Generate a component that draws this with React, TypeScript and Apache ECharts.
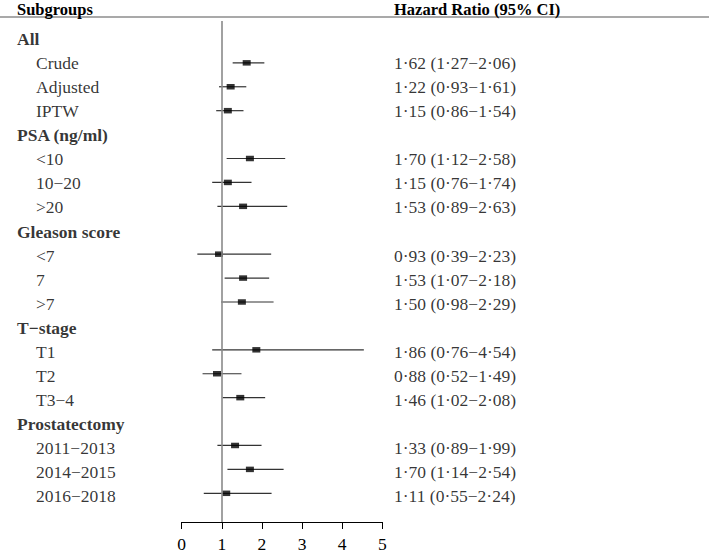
import React, { useEffect, useRef } from "react";
import * as echarts from "echarts";

const rowLabels = [
  "All", "Crude", "Adjusted", "IPTW",
  "PSA (ng/ml)", "<10", "10−20", ">20",
  "Gleason score", "<7", "7", ">7",
  "T−stage", "T1", "T2", "T3−4",
  "Prostatectomy", "2011−2013", "2014−2015", "2016−2018",
];
const isHeader = [
  true, false, false, false,
  true, false, false, false,
  true, false, false, false,
  true, false, false, false,
  true, false, false, false,
];
const hr = [null, 1.62, 1.22, 1.15, null, 1.7, 1.15, 1.53, null, 0.93, 1.53, 1.5, null, 1.86, 0.88, 1.46, null, 1.33, 1.7, 1.11];
const lower = [null, 1.27, 0.93, 0.86, null, 1.12, 0.76, 0.89, null, 0.39, 1.07, 0.98, null, 0.76, 0.52, 1.02, null, 0.89, 1.14, 0.55];
const upper = [null, 2.06, 1.61, 1.54, null, 2.58, 1.74, 2.63, null, 2.23, 2.18, 2.29, null, 4.54, 1.49, 2.08, null, 1.99, 2.54, 2.24];
const columnHeaders = ["Subgroups", "Hazard Ratio (95% CI)"];
const xTicks = [0, 1, 2, 3, 4, 5];
const refValue = 1;

const fmt = (v: number) => v.toFixed(2).replace(".", "·");

export default function App() {
  const ref = useRef<HTMLDivElement>(null);
  useEffect(() => {
    if (!ref.current) return;
    const chart = echarts.init(ref.current, null, { renderer: "svg" });
    const FONT = "Liberation Serif";
    const TOP = 21;
    const HEIGHT = 504;
    const yMin = -0.75;
    const yMax = 20.2;

    const headerData: any[] = [];
    const subData: any[] = [];
    const hrTextData: any[] = [];
    const whiskerData: any[] = [];
    const boxData: any[] = [];
    rowLabels.forEach((lab, i) => {
      if (isHeader[i]) headerData.push({ value: [0, i], name: lab });
      else subData.push({ value: [0, i], name: lab });
      if (hr[i] != null) {
        const h = hr[i] as number;
        const l = lower[i] as number;
        const u = upper[i] as number;
        hrTextData.push({ value: [0, i], name: `${fmt(h)} (${fmt(l)}−${fmt(u)})` });
        whiskerData.push([l, u, i]);
        boxData.push([h, i]);
      }
    });

    const yAxisBase = {
      type: "value",
      min: yMin,
      max: yMax,
      inverse: true,
      show: false,
    };

    const headStyle = {
      fontFamily: FONT,
      fontWeight: "bold",
      fontSize: 16.5,
      lineHeight: 14,
      color: "#000",
    };

    chart.setOption({
      animation: false,
      title: [
        { text: columnHeaders[0], left: 17, top: 2, padding: 0, textStyle: headStyle },
        { text: columnHeaders[1], left: 394, top: 2, padding: 0, textStyle: headStyle },
      ],
      graphic: [
        {
          type: "line",
          shape: { x1: 0, y1: 17, x2: 709, y2: 17 },
          style: { stroke: "#555", lineWidth: 1.2 },
        },
      ],
      grid: [
        { left: 181.7, width: 200.6, top: TOP, height: HEIGHT },
        { left: 17, width: 160, top: TOP, height: HEIGHT },
        { left: 394, width: 300, top: TOP, height: HEIGHT },
      ],
      xAxis: [
        {
          gridIndex: 0,
          type: "value",
          position: "bottom",
          min: 0,
          max: 5,
          interval: 1,
          axisLine: { show: true, onZero: false, lineStyle: { color: "#000", width: 1 } },
          axisTick: { show: true, length: 7, lineStyle: { color: "#000" } },
          axisLabel: {
            fontFamily: FONT,
            fontSize: 17.5,
            color: "#000",
            margin: 13,
            customValues: xTicks,
          },
          splitLine: { show: false },
        },
        { gridIndex: 1, type: "value", min: 0, max: 1, show: false },
        { gridIndex: 2, type: "value", min: 0, max: 1, show: false },
      ],
      yAxis: [
        { gridIndex: 0, ...yAxisBase },
        { gridIndex: 1, ...yAxisBase },
        { gridIndex: 2, ...yAxisBase },
      ],
      series: [
        {
          type: "custom",
          xAxisIndex: 0,
          yAxisIndex: 0,
          data: whiskerData,
          encode: { x: [0, 1], y: 2 },
          renderItem: (params: any, api: any) => {
            const p1 = api.coord([api.value(0), api.value(2)]);
            const p2 = api.coord([api.value(1), api.value(2)]);
            return {
              type: "line",
              shape: { x1: p1[0], y1: p1[1], x2: p2[0], y2: p2[1] },
              style: { stroke: "#333", lineWidth: 1.2 },
            };
          },
          markLine: {
            silent: true,
            symbol: "none",
            label: { show: false },
            lineStyle: { color: "#8a8a8a", width: 1.6, type: "solid" },
            data: [{ xAxis: refValue }],
          },
          z: 2,
        },
        {
          type: "scatter",
          xAxisIndex: 0,
          yAxisIndex: 0,
          data: boxData,
          symbol: "rect",
          symbolSize: [8, 5.5],
          itemStyle: { color: "#000" },
          z: 3,
        },
        {
          type: "scatter",
          xAxisIndex: 1,
          yAxisIndex: 1,
          data: headerData,
          symbolSize: 0,
          label: {
            show: true,
            position: "right",
            distance: 0,
            formatter: (p: any) => p.name,
            fontFamily: FONT,
            fontWeight: "bold",
            fontSize: 17.5,
            color: "#000",
          },
        },
        {
          type: "scatter",
          xAxisIndex: 1,
          yAxisIndex: 1,
          data: subData,
          symbolSize: 0,
          label: {
            show: true,
            position: "right",
            distance: 19,
            formatter: (p: any) => p.name,
            fontFamily: FONT,
            fontSize: 17.5,
            color: "#000",
          },
        },
        {
          type: "scatter",
          xAxisIndex: 2,
          yAxisIndex: 2,
          data: hrTextData,
          symbolSize: 0,
          label: {
            show: true,
            position: "right",
            distance: 0,
            formatter: (p: any) => p.name,
            fontFamily: FONT,
            fontSize: 17.5,
            color: "#000",
          },
        },
      ],
    });
    return () => chart.dispose();
  }, []);
  return (
    <div
      ref={ref}
      style={{ position: "absolute", left: 0, top: 0, width: 709, height: 553, background: "#fff" }}
    />
  );
}
